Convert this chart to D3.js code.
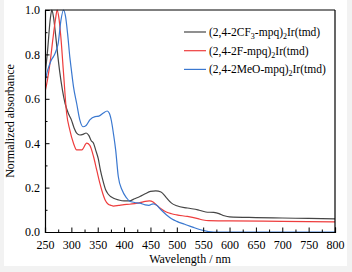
<!DOCTYPE html>
<html>
<head>
<meta charset="utf-8">
<script src="https://cdn.jsdelivr.net/npm/d3@7"></script>
<style>
  body { margin: 0; background: #f2f2f2; }
  svg { display: block; font-family: "Liberation Serif", "DejaVu Serif", serif; }
</style>
</head>
<body>
<svg id="chart"></svg>
<script>
// wavelength (nm) / normalized absorbance
var cf3Wl  = [250, 255, 260, 263, 266, 270, 274, 278, 283, 288, 295, 300, 305, 310, 316, 322, 328, 333, 338, 342, 346, 351, 355, 360, 365, 370, 380, 390, 400, 410, 420, 430, 440, 450, 460, 470, 480, 490, 500, 520, 540, 555, 570, 580, 590, 600, 650, 700, 750, 800];
var cf3Abs = [0.70, 0.82, 0.96, 1.0, 0.97, 0.89, 0.80, 0.72, 0.64, 0.58, 0.53, 0.505, 0.47, 0.445, 0.437, 0.44, 0.446, 0.435, 0.41, 0.40, 0.37, 0.33, 0.28, 0.23, 0.19, 0.17, 0.152, 0.144, 0.14, 0.14, 0.15, 0.16, 0.172, 0.183, 0.185, 0.18, 0.155, 0.13, 0.118, 0.108, 0.10, 0.09, 0.088, 0.083, 0.073, 0.068, 0.065, 0.063, 0.061, 0.059];

var fWl  = [250, 255, 260, 265, 270, 273, 276, 280, 285, 291, 297, 304, 310, 320, 329, 335, 342, 348, 354, 360, 364, 370, 375, 380, 390, 400, 410, 420, 430, 440, 448, 455, 462, 470, 480, 490, 500, 520, 540, 550, 560, 600, 700, 800];
var fAbs = [0.63, 0.69, 0.77, 0.87, 0.96, 1.0, 0.97, 0.88, 0.72, 0.535, 0.46, 0.40, 0.37, 0.37, 0.40, 0.39, 0.34, 0.28, 0.22, 0.17, 0.144, 0.125, 0.12, 0.117, 0.12, 0.123, 0.125, 0.128, 0.132, 0.138, 0.14, 0.135, 0.12, 0.105, 0.09, 0.082, 0.077, 0.07, 0.06, 0.054, 0.051, 0.05, 0.048, 0.046];

var meoWl  = [250, 253, 258, 262, 266, 270, 275, 280, 285, 289, 293, 297, 300, 304, 310, 316, 322, 328, 335, 345, 352, 360, 368, 372, 376, 380, 384, 389, 396, 405, 410, 420, 430, 440, 447, 455, 462, 470, 480, 490, 500, 515, 530, 545, 560, 570, 600, 700, 800];
var meoAbs = [0.67, 0.71, 0.75, 0.775, 0.79, 0.81, 0.85, 0.95, 1.0, 0.97, 0.89, 0.79, 0.73, 0.655, 0.58, 0.505, 0.474, 0.48, 0.505, 0.52, 0.522, 0.535, 0.545, 0.535, 0.5, 0.44, 0.37, 0.25, 0.19, 0.153, 0.14, 0.133, 0.13, 0.122, 0.12, 0.127, 0.12, 0.10, 0.078, 0.06, 0.048, 0.035, 0.022, 0.01, 0.002, 0, 0, 0, 0];

var seriesNames = ["(2,4-2CF3-mpq)2Ir(tmd)", "(2,4-2F-mpq)2Ir(tmd)", "(2,4-2MeO-mpq)2Ir(tmd)"];
var seriesColors = ["#454545", "#ee3d3d", "#3a78d0"];
var xTicks = [250, 300, 350, 400, 450, 500, 550, 600, 650, 700, 750, 800];
var yTicks = [0.0, 0.2, 0.4, 0.6, 0.8, 1.0];

var width = 352, height = 272;
var margin = { left: 45, right: 17, top: 10, bottom: 40 };
var serif = "'Liberation Serif', 'DejaVu Serif', serif";

var svg = d3.select("#chart").attr("width", width).attr("height", height);
svg.append("rect")
    .attr("x", 4).attr("y", 0)
    .attr("width", 343).attr("height", 266)
    .attr("fill", "#fff");

var x = d3.scaleLinear().domain([250, 800]).range([margin.left, width - margin.right]);
var y = d3.scaleLinear().domain([0, 1]).range([height - margin.bottom, margin.top]);

var series = [
    { name: seriesNames[0], wl: cf3Wl, abs: cf3Abs, color: seriesColors[0] },
    { name: seriesNames[1], wl: fWl, abs: fAbs, color: seriesColors[1] },
    { name: seriesNames[2], wl: meoWl, abs: meoAbs, color: seriesColors[2] }
];

var line = d3.line()
    .x(function(d) { return x(d[0]); })
    .y(function(d) { return y(d[1]); })
    .curve(d3.curveMonotoneX);

var plot = svg.append("g");
plot.append("defs").append("clipPath").attr("id", "clip")
    .append("rect")
    .attr("x", x(250)).attr("y", y(1) - 1)
    .attr("width", x(800) - x(250)).attr("height", y(0) - y(1) + 1);

plot.append("g").attr("clip-path", "url(#clip)")
    .selectAll("path")
    .data(series)
    .enter()
    .append("path")
    .attr("fill", "none")
    .attr("stroke", function(d) { return d.color; })
    .attr("stroke-width", 1.2)
    .attr("d", function(d) {
        return line(d.wl.map(function(w, i) { return [w, d.abs[i]]; }));
    });

// minor ticks (inward)
var xMinor = d3.range(275, 800, 50);
svg.append("g")
    .attr("transform", "translate(0," + y(0) + ")")
    .call(d3.axisBottom(x).tickValues(xMinor).tickSize(-2.5).tickFormat(""))
    .call(function(g) { g.select(".domain").remove(); });
svg.append("g")
    .attr("transform", "translate(" + x(250) + ",0)")
    .call(d3.axisLeft(y).tickValues([0.1, 0.3, 0.5, 0.7, 0.9]).tickSize(-2.5).tickFormat(""))
    .call(function(g) { g.select(".domain").remove(); });

// major axes
var xAxis = svg.append("g")
    .attr("transform", "translate(0," + y(0) + ")")
    .call(d3.axisBottom(x).tickValues(xTicks).tickSize(-4.5).tickPadding(8).tickFormat(d3.format("d")))
    .attr("font-family", serif)
    .attr("font-size", 12);
xAxis.select(".domain").attr("stroke-width", 1.2);

var yAxis = svg.append("g")
    .attr("transform", "translate(" + x(250) + ",0)")
    .call(d3.axisLeft(y).tickValues(yTicks).tickSize(-4.5).tickPadding(5).tickFormat(d3.format(".1f")))
    .attr("font-family", serif)
    .attr("font-size", 12);
yAxis.select(".domain").attr("stroke-width", 1.2);

// top and right frame
svg.append("line")
    .attr("x1", x(250)).attr("x2", x(800))
    .attr("y1", y(1)).attr("y2", y(1))
    .attr("stroke", "#000");
svg.append("line")
    .attr("x1", x(800)).attr("x2", x(800))
    .attr("y1", y(1)).attr("y2", y(0))
    .attr("stroke", "#000").attr("stroke-width", 1.2);

svg.append("text")
    .attr("x", (x(250) + x(800)) / 2)
    .attr("y", 263)
    .attr("text-anchor", "middle")
    .attr("font-size", 12)
    .text("Wavelength / nm");

svg.append("text")
    .attr("transform", "translate(14," + (y(0.5)) + ") rotate(-90)")
    .attr("text-anchor", "middle")
    .attr("font-size", 12)
    .text("Normalized absorbance");

// legend label with subscripts (CF3 and ")2")
function legendLabel(t, name) {
    var m = name.match(/^(\(2,4-2)(CF|F|MeO)(3?)(-mpq\))(2)(Ir\(tmd\))$/);
    t.append("tspan").text(m[1] + m[2]);
    if (m[3]) {
        t.append("tspan").attr("font-size", 8).attr("dy", 3).text(m[3]);
        t.append("tspan").attr("dy", -3).text(m[4]);
    } else {
        t.append("tspan").text(m[4]);
    }
    t.append("tspan").attr("font-size", 8).attr("dy", 3).text(m[5]);
    t.append("tspan").attr("dy", -3).text(m[6]);
}

var legend = svg.append("g")
    .selectAll("g")
    .data(series)
    .enter()
    .append("g")
    .attr("transform", function(d, i) { return "translate(184," + (32 + i * 18.7) + ")"; });

legend.append("line")
    .attr("x1", 0).attr("x2", 22)
    .attr("stroke", function(d) { return d.color; })
    .attr("stroke-width", 1.2);

legend.append("text")
    .attr("x", 25)
    .attr("dy", 4)
    .attr("font-size", 11.5)
    .each(function(d) { legendLabel(d3.select(this), d.name); });
</script>
</body>
</html>
